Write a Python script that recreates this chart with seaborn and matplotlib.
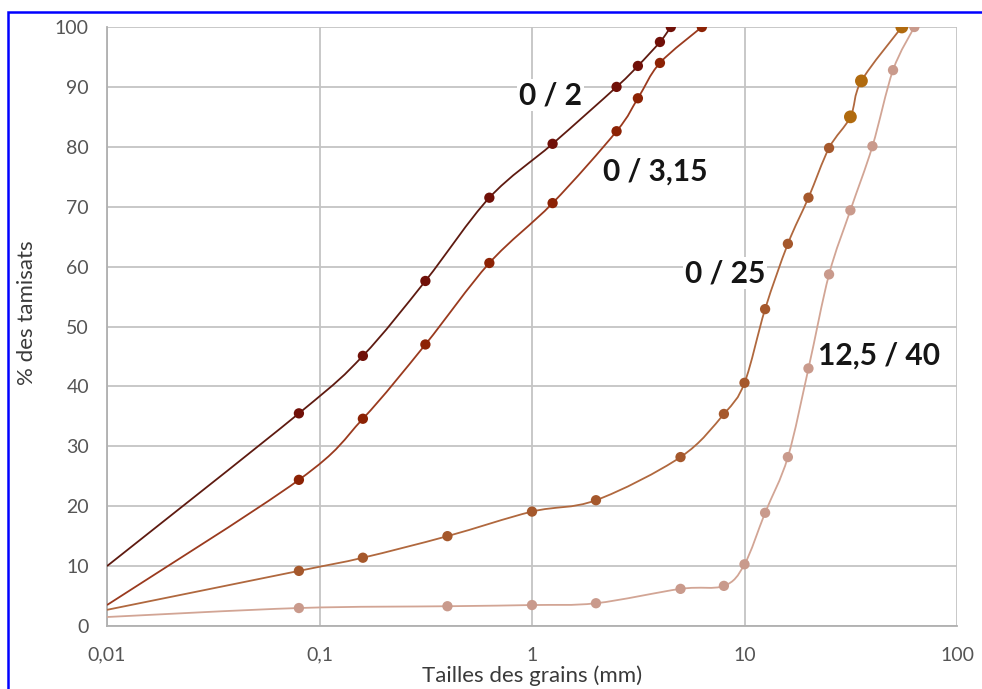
import numpy as np
import pandas as pd
import matplotlib
matplotlib.use("Agg")
import matplotlib.pyplot as plt
import seaborn as sns
from matplotlib.path import Path
from matplotlib.patches import PathPatch, Rectangle
from matplotlib.ticker import FixedLocator, FixedFormatter

# -------------------------------
# Données : courbes granulométriques
# -------------------------------
x_02 = [0.01, 0.08, 0.16, 0.315, 0.63, 1.25, 2.5, 3.15, 4, 4.5]
y_02 = [10, 35.5, 45.1, 57.6, 71.5, 80.5, 90, 93.5, 97.5, 100]

x_0315 = [0.01, 0.08, 0.16, 0.315, 0.63, 1.25, 2.5, 3.15, 4, 6.3]
y_0315 = [3.5, 24.4, 34.6, 47, 60.6, 70.6, 82.6, 88.1, 94, 100]

x_025 = [0.01, 0.08, 0.16, 0.4, 1, 2, 5, 8, 10, 12.5, 16, 20, 25, 31.5, 35.5, 55]
y_025 = [2.7, 9.2, 11.4, 15, 19.1, 21, 28.2, 35.4, 40.6, 52.9, 63.8, 71.5, 79.8, 85, 91, 100]

x_1240 = [0.01, 0.08, 0.4, 1, 2, 5, 8, 10, 12.5, 16, 20, 25, 31.5, 40, 50, 63]
y_1240 = [1.5, 3.0, 3.3, 3.5, 3.8, 6.2, 6.7, 10.3, 18.9, 28.2, 43, 58.7, 69.4, 80.1, 92.8, 100]

noms = ["0 / 2", "0 / 3,15", "0 / 25", "12,5 / 40"]
couleurs_ligne = ["#5e1a10", "#9a3a1e", "#b0683e", "#d2a595"]
couleurs_point = ["#701008", "#8c2204", "#a5582c", "#c99a8c"]

x_ticks = [0.01, 0.1, 1, 10, 100]
x_labels = ["0,01", "0,1", "1", "10", "100"]
y_ticks = list(range(0, 101, 10))

# positions des étiquettes (x, y en données)
pos_labels = [(1.22, 88.6), (3.8, 75.8), (8.1, 58.9), (43, 45.2)]

series = [(x_02, y_02), (x_0315, y_0315), (x_025, y_025), (x_1240, y_1240)]

rows = []
for nom, (xs, ys) in zip(noms, series):
    for i, (xv, yv) in enumerate(zip(xs, ys)):
        rows.append({"serie": nom, "taille": xv, "passant": yv, "idx": i, "n": len(xs)})
df = pd.DataFrame(rows)


def courbe_lissee(xs, ys):
    # lissage façon Excel (Catmull-Rom -> Bézier) dans l'espace log(x)
    pts = np.column_stack([np.log10(xs), ys])
    n = len(pts)
    verts = [pts[0]]
    codes = [Path.MOVETO]
    for i in range(n - 1):
        p0 = pts[max(i - 1, 0)]
        p1 = pts[i]
        p2 = pts[i + 1]
        p3 = pts[min(i + 2, n - 1)]
        verts += [p1 + (p2 - p0) / 6, p2 - (p3 - p1) / 6, p2]
        codes += [Path.CURVE4] * 3
    verts = np.array(verts)
    verts[:, 0] = 10 ** verts[:, 0]
    return Path(verts, codes)


# -------------------------------
# Figure
# -------------------------------
sns.set_style("white")
plt.rcParams["font.family"] = ["Lato", "DejaVu Sans"]

fig = plt.figure(figsize=(9.82, 6.89), dpi=100)
ax = fig.add_axes([107 / 982, 63 / 689, 850 / 982, 599 / 689])
ax.set_xscale("log")

for nom, (xs, ys), cl in zip(noms, series, couleurs_ligne):
    ax.add_patch(PathPatch(courbe_lissee(xs, ys), fill=False, edgecolor=cl, lw=1.3, zorder=3))

# points (sans le premier, au bord de l'axe)
pts = df[df["idx"] > 0]
normal = pts[~((pts["serie"] == "0 / 25") & (pts["idx"] >= pts["n"] - 3))]
dore = pts[(pts["serie"] == "0 / 25") & (pts["idx"] >= pts["n"] - 3)]
sns.scatterplot(data=normal, x="taille", y="passant", hue="serie", hue_order=noms,
                palette=couleurs_point, s=55, edgecolor="none", legend=False, ax=ax, zorder=4)
sns.scatterplot(data=dore, x="taille", y="passant", color="#b06a0e", s=85,
                edgecolor="none", legend=False, ax=ax, zorder=4)

for nom, (lx, ly) in zip(noms, pos_labels):
    ax.text(lx, ly, nom, fontsize=21.5, fontweight="bold", color="#151515",
            ha="center", va="center", zorder=5,
            bbox=dict(facecolor="white", edgecolor="none", pad=1.5))

ax.set_xlim(0.01, 100)
ax.set_ylim(0, 100)
ax.xaxis.set_major_locator(FixedLocator(x_ticks))
ax.xaxis.set_major_formatter(FixedFormatter(x_labels))
ax.xaxis.set_minor_locator(FixedLocator([]))
ax.set_yticks(y_ticks)

ax.grid(True, color="#c4c4c4", lw=1.3)
ax.set_axisbelow(True)
for s in ["top", "right"]:
    ax.spines[s].set_visible(False)
for s in ["left", "bottom"]:
    ax.spines[s].set_color("#b0b0b0")
    ax.spines[s].set_linewidth(1.3)

ax.tick_params(axis="both", length=0, labelsize=14, labelcolor="#555555")
ax.tick_params(axis="y", pad=13)
ax.tick_params(axis="x", pad=15)

ax.set_xlabel("Tailles des grains (mm)", fontsize=16, color="#3a3a3a", labelpad=1)
ax.set_ylabel("% des tamisats", fontsize=16, color="#3a3a3a")
ax.yaxis.set_label_coords(-0.082, 0.5225)

# cadre bleu
fig.add_artist(Rectangle((8 / 982, -0.2), 1.2, 1.2 - 12 / 689, transform=fig.transFigure,
                         fill=False, edgecolor="#0000ff", lw=1.8, clip_on=False))

fig.savefig("out.png", dpi=100)
